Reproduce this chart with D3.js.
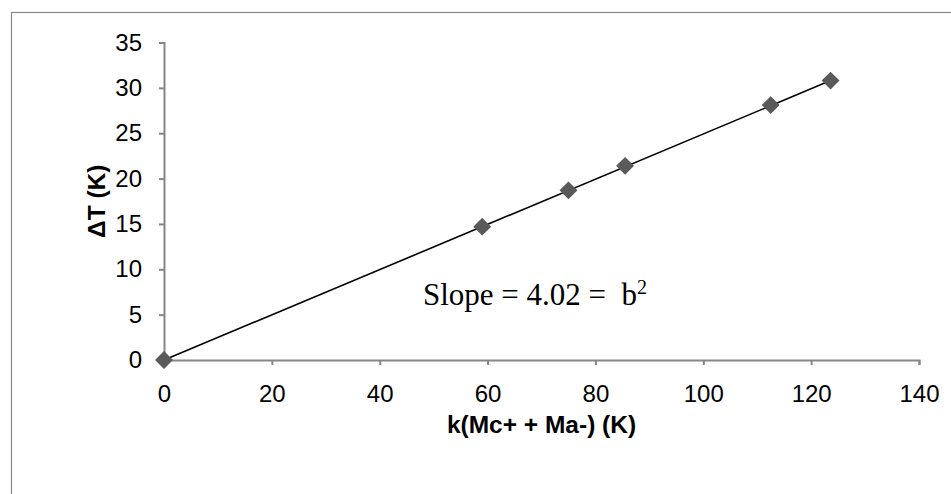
<!DOCTYPE html>
<html>
<head>
	<meta charset="utf-8">
	<script src="https://d3js.org/d3.v7.min.js"></script>
	<style>
		body {
			margin: 0;
			background-color: white;
		}

		.tick text {
			font-family: 'Liberation Sans', Arial, sans-serif;
			font-size: 24px;
			fill: black;
		}

		.axisTitle {
			font-family: 'Liberation Sans', Arial, sans-serif;
			font-size: 24.5px;
			font-weight: bold;
			fill: black;
		}

		.note {
			font-family: 'Liberation Serif', 'Times New Roman', serif;
			font-size: 31px;
			fill: black;
		}
	</style>
</head>
<body>
	<div id="chart"></div>

	<script>
		// data
		var xValues = [0, 59, 75, 85.5, 112.5, 123.6];
		var yValues = [0, 14.7, 18.7, 21.4, 28.1, 30.8];
		var xTicks = [0, 20, 40, 60, 80, 100, 120, 140];
		var yTicks = [0, 5, 10, 15, 20, 25, 30, 35];

		var width = 951,
			height = 494;

		var svg = d3.select("#chart")
			.append("svg")
			.attr("width", width)
			.attr("height", height);

		// outer frame of the chart
		svg.append("rect")
			.attr("x", 11.5)
			.attr("y", 12.5)
			.attr("width", 960)
			.attr("height", 500)
			.style("fill", "white")
			.style("stroke", "#8a8a8a")
			.style("stroke-width", 1.2);

		var x = d3.scaleLinear().domain([0, 140]).range([164, 919]);
		var y = d3.scaleLinear().domain([0, 35]).range([360, 42.5]);

		// axes
		var xAxis = svg.append("g")
			.attr("transform", "translate(0," + y(0) + ")")
			.call(d3.axisBottom(x).tickValues(xTicks).tickSize(5).tickPadding(20));

		var yAxis = svg.append("g")
			.attr("transform", "translate(" + x(0) + ",0)")
			.call(d3.axisLeft(y).tickValues(yTicks).tickSize(5).tickPadding(17));

		[xAxis, yAxis].forEach(function (g) {
			g.select(".domain").style("stroke", "#868686").style("stroke-width", 2);
			g.selectAll(".tick line").style("stroke", "#868686").style("stroke-width", 2);
		});

		// trend line through the points
		var pts = xValues.map(function (d, i) { return { x: d, y: yValues[i] }; });

		svg.append("path")
			.datum([pts[0], pts[pts.length - 1]])
			.attr("d", d3.line()
				.x(function (d) { return x(d.x); })
				.y(function (d) { return y(d.y); }))
			.style("fill", "none")
			.style("stroke", "black")
			.style("stroke-width", 1.6);

		// diamond markers
		svg.selectAll(".marker")
			.data(pts)
			.enter().append("path")
			.attr("class", "marker")
			.attr("d", d3.symbol().type(d3.symbolSquare).size(160))
			.attr("transform", function (d) {
				return "translate(" + x(d.x) + "," + y(d.y) + ") rotate(45)";
			})
			.style("fill", "#5a5a5a");

		// axis titles
		svg.append("text")
			.attr("class", "axisTitle")
			.attr("x", (x(0) + x(140)) / 2)
			.attr("y", 433)
			.style("text-anchor", "middle")
			.text("k(Mc+ + Ma-) (K)");

		svg.append("text")
			.attr("class", "axisTitle")
			.attr("transform", "translate(105," + (y(0) + y(35)) / 2 + ") rotate(-90)")
			.style("text-anchor", "middle")
			.text("\u0394T (K)");

		// slope note
		var note = svg.append("text")
			.attr("class", "note")
			.attr("x", 423)
			.attr("y", 305);
		note.append("tspan").text("Slope = 4.02 =\u00a0 b");
		note.append("tspan")
			.attr("dy", -11)
			.style("font-size", "20px")
			.text("2");
	</script>
</body>
</html>
